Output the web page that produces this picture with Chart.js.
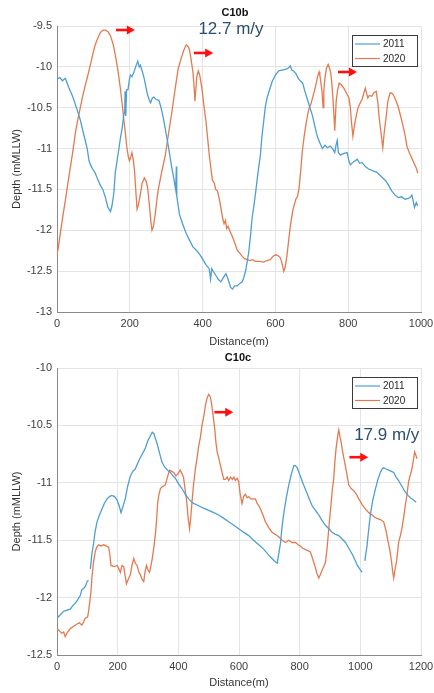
<!DOCTYPE html>
<html>
<head>
<meta charset="utf-8">
<script src="https://cdn.jsdelivr.net/npm/chart.js@4/dist/chart.umd.min.js"></script>
<style>
html,body{margin:0;padding:0;background:#fff;}
#wrap{position:relative;width:434px;height:693px;overflow:hidden;}
canvas{position:absolute;left:0;}
#c1{top:0;}
#c2{top:350px;}
</style>
</head>
<body>
<div id="wrap">
<canvas id="c1" width="434" height="350"></canvas>
<canvas id="c2" width="434" height="343"></canvas>
</div>
<script>
// ---------- DATA ----------
const seriesNames = ['2011', '2020'];

// C10b
const b2011X = [0,8,15,23,28,32,40,46,55,64,72,83,88,92,98,105,112,119,126,133,140,147,151,156,160,165,170,175,179,183,186,187,189,191,195,199,202,206,211,216,222,226,229,234,240,248,253,257,262,266,272,280,286,293,300,307,314,321,326,328,329,333,336,345,355,364,373,386,393,400,409,418,422,425,436,443,450,457,464,470,477,482,488,495,502,509,513,518,522,527,532,536,541,545,552,559,563,568,572,577,584,591,600,609,618,627,634,641,645,650,656,664,675,681,688,695,702,708,715,722,729,736,743,750,757,763,767,770,773,779,788,797,802,806,815,825,831,838,847,856,867,879,888,897,904,911,920,929,938,947,956,965,970,975,979,982,987,991];
const b2011Y = [-10.15,-10.13,-10.17,-10.14,-10.2,-10.25,-10.33,-10.4,-10.52,-10.65,-10.8,-11.0,-11.15,-11.2,-11.25,-11.3,-11.38,-11.45,-11.5,-11.6,-11.72,-11.77,-11.7,-11.55,-11.3,-11.15,-11.0,-10.85,-10.75,-10.6,-10.55,-10.3,-10.6,-10.28,-10.28,-10.15,-10.1,-10.12,-10.07,-10.0,-9.93,-10.0,-9.98,-10.05,-10.15,-10.33,-10.4,-10.44,-10.38,-10.37,-10.4,-10.41,-10.5,-10.65,-10.82,-11.0,-11.2,-11.37,-11.5,-11.22,-11.58,-11.7,-11.8,-11.92,-12.04,-12.12,-12.2,-12.26,-12.3,-12.35,-12.42,-12.47,-12.6,-12.47,-12.55,-12.6,-12.63,-12.58,-12.53,-12.6,-12.7,-12.72,-12.68,-12.68,-12.65,-12.63,-12.58,-12.5,-12.4,-12.26,-12.05,-11.85,-11.7,-11.56,-11.3,-11.07,-10.85,-10.66,-10.5,-10.38,-10.28,-10.18,-10.1,-10.05,-10.04,-10.03,-10.02,-9.99,-10.04,-10.05,-10.08,-10.15,-10.2,-10.3,-10.4,-10.5,-10.6,-10.72,-10.85,-10.93,-11.0,-10.96,-10.99,-10.97,-11.0,-11.05,-10.95,-10.9,-11.05,-11.08,-11.06,-11.05,-11.15,-11.2,-11.16,-11.13,-11.18,-11.17,-11.22,-11.25,-11.27,-11.29,-11.33,-11.37,-11.4,-11.45,-11.52,-11.57,-11.6,-11.59,-11.62,-11.61,-11.6,-11.57,-11.65,-11.72,-11.66,-11.7];

const b2020X = [0,4,9,16,23,30,37,44,50,57,64,71,78,85,92,98,105,112,119,126,133,140,147,154,160,167,174,179,183,188,192,196,199,203,206,210,213,217,220,224,229,234,240,245,249,254,258,261,265,270,275,279,288,298,307,316,322,327,333,341,348,355,360,364,368,373,376,379,381,384,388,392,398,403,409,414,418,423,427,432,436,441,446,450,455,459,463,466,470,476,482,488,495,502,509,516,523,530,537,545,556,568,577,586,593,600,607,614,619,623,627,632,637,641,648,656,661,665,670,674,679,684,688,693,698,702,707,711,716,720,722,724,728,731,733,736,740,745,749,752,755,758,761,763,765,767,771,775,781,788,795,802,806,809,813,817,822,827,833,838,843,847,851,854,858,865,870,877,881,885,890,895,899,904,909,915,920,925,932,938,945,952,957,961,968,975,981,988,991];
const b2020Y = [-12.3,-12.2,-12.04,-11.83,-11.63,-11.42,-11.22,-11.02,-10.82,-10.65,-10.5,-10.35,-10.22,-10.1,-9.97,-9.85,-9.73,-9.65,-9.58,-9.55,-9.55,-9.57,-9.62,-9.72,-9.85,-10.03,-10.26,-10.45,-10.62,-10.82,-10.99,-11.1,-11.15,-11.1,-11.05,-11.15,-11.27,-11.55,-11.74,-11.68,-11.56,-11.42,-11.36,-11.4,-11.48,-11.7,-11.9,-12.0,-11.95,-11.8,-11.6,-11.48,-11.28,-11.07,-10.8,-10.54,-10.35,-10.2,-10.02,-9.9,-9.8,-9.73,-9.75,-9.79,-9.9,-10.05,-10.2,-10.42,-10.3,-10.12,-10.05,-10.1,-10.26,-10.45,-10.66,-10.88,-11.07,-11.25,-11.39,-11.42,-11.5,-11.52,-11.62,-11.72,-11.85,-11.92,-11.88,-11.98,-11.95,-12.02,-12.08,-12.15,-12.24,-12.28,-12.32,-12.35,-12.36,-12.37,-12.36,-12.38,-12.38,-12.39,-12.37,-12.36,-12.32,-12.3,-12.31,-12.34,-12.42,-12.5,-12.45,-12.3,-12.1,-11.95,-11.75,-11.62,-11.58,-11.48,-11.25,-11.03,-10.85,-10.7,-10.6,-10.5,-10.45,-10.38,-10.3,-10.22,-10.12,-10.06,-10.1,-10.16,-10.3,-10.5,-10.3,-10.14,-10.02,-9.97,-10.02,-10.07,-10.2,-10.38,-10.6,-10.78,-10.6,-10.42,-10.28,-10.2,-10.22,-10.26,-10.32,-10.38,-10.5,-10.68,-10.85,-10.72,-10.6,-10.5,-10.44,-10.4,-10.32,-10.26,-10.33,-10.38,-10.35,-10.36,-10.32,-10.3,-10.42,-10.62,-10.8,-10.99,-10.8,-10.62,-10.42,-10.32,-10.32,-10.35,-10.42,-10.5,-10.62,-10.75,-10.85,-10.97,-11.05,-11.12,-11.18,-11.25,-11.3];

// C10c
const c2011X = [0,11,22,33,44,52,60,68,77,82,88,94,99,104,106,110,115,121,126,132,140,148,156,165,173,181,190,198,205,211,216,225,233,242,250,258,266,275,283,291,300,308,314,319,325,330,338,346,354,361,368,374,382,390,401,412,423,434,450,467,483,500,517,533,550,566,583,599,615,632,648,665,682,698,709,720,726,731,737,742,748,756,764,772,781,786,792,802,810,818,830,841,852,863,874,885,896,907,918,929,940,951,962,973,982,990,998,1006,1010,1015,1018,1022,1027,1033,1041,1050,1058,1066,1072,1077,1085,1094,1102,1110,1118,1126,1137,1148,1157,1165,1175,1184];
const c2011Y = [-12.18,-12.15,-12.12,-12.11,-12.1,-12.07,-12.05,-12.02,-11.98,-11.93,-11.92,-11.9,-11.86,-11.85,null,-11.75,-11.62,-11.52,-11.42,-11.34,-11.28,-11.23,-11.18,-11.14,-11.12,-11.11,-11.12,-11.15,-11.2,-11.26,-11.22,-11.14,-11.03,-10.94,-10.9,-10.88,-10.83,-10.78,-10.74,-10.7,-10.63,-10.59,-10.56,-10.57,-10.62,-10.66,-10.74,-10.82,-10.86,-10.88,-10.9,-10.91,-10.94,-10.96,-11.01,-11.05,-11.1,-11.14,-11.18,-11.2,-11.22,-11.24,-11.26,-11.28,-11.31,-11.34,-11.37,-11.4,-11.43,-11.46,-11.5,-11.54,-11.58,-11.63,-11.66,-11.69,-11.7,-11.62,-11.52,-11.38,-11.26,-11.13,-11.02,-10.93,-10.85,-10.85,-10.87,-10.94,-11.0,-11.05,-11.13,-11.2,-11.24,-11.28,-11.33,-11.37,-11.4,-11.43,-11.45,-11.46,-11.49,-11.52,-11.57,-11.62,-11.67,-11.72,-11.75,-11.78,null,-11.68,-11.62,-11.55,-11.42,-11.28,-11.15,-11.05,-10.97,-10.91,-10.88,-10.87,-10.88,-10.89,-10.9,-10.91,-10.95,-10.98,-11.03,-11.08,-11.11,-11.13,-11.15,-11.17];

const c2020X = [0,8,16,22,27,35,44,55,66,74,82,88,93,101,104,108,112,115,120,126,131,137,145,154,162,170,174,178,188,198,204,209,214,220,224,229,235,242,247,253,258,264,270,275,280,286,290,295,300,305,310,314,320,325,329,332,336,341,349,357,364,371,378,385,392,399,406,412,417,422,428,432,437,441,445,450,456,462,467,473,478,484,489,495,500,505,509,514,520,524,528,533,539,545,550,555,561,566,572,578,583,588,594,599,604,610,615,621,627,632,638,646,654,660,666,671,679,687,698,709,720,731,742,753,764,775,786,795,802,810,818,826,835,840,846,852,857,863,868,874,880,885,890,896,900,904,908,912,916,920,925,929,933,937,941,946,954,962,970,979,987,995,1006,1017,1028,1039,1047,1055,1066,1077,1085,1092,1098,1103,1107,1110,1114,1119,1123,1126,1132,1137,1143,1148,1154,1159,1165,1170,1175,1179,1183,1187];
const c2020Y = [-12.27,-12.29,-12.31,-12.3,-12.34,-12.3,-12.27,-12.25,-12.23,-12.22,-12.24,-12.21,-12.18,-12.17,-12.12,-12.04,-11.95,-11.83,-11.7,-11.6,-11.56,-11.54,-11.55,-11.54,-11.55,-11.56,-11.62,-11.72,-11.73,-11.72,-11.75,-11.78,-11.72,-11.73,-11.8,-11.88,-11.84,-11.8,-11.72,-11.66,-11.7,-11.72,-11.78,-11.8,-11.84,-11.86,-11.78,-11.72,-11.76,-11.78,-11.72,-11.66,-11.55,-11.43,-11.3,-11.17,-11.1,-11.05,-11.03,-11.02,-10.95,-10.89,-10.9,-10.91,-10.94,-10.92,-10.89,-10.92,-10.95,-11.05,-11.17,-11.3,-11.4,-11.3,-11.17,-11.02,-10.88,-10.78,-10.68,-10.6,-10.5,-10.42,-10.33,-10.26,-10.23,-10.25,-10.3,-10.4,-10.53,-10.65,-10.73,-10.78,-10.85,-10.92,-10.97,-10.97,-10.95,-10.98,-10.95,-10.97,-10.95,-10.98,-10.96,-10.99,-11.1,-11.18,-11.12,-11.1,-11.13,-11.12,-11.14,-11.14,-11.14,-11.18,-11.2,-11.23,-11.28,-11.34,-11.39,-11.43,-11.45,-11.47,-11.5,-11.52,-11.5,-11.52,-11.52,-11.54,-11.55,-11.57,-11.58,-11.59,-11.6,-11.64,-11.69,-11.74,-11.79,-11.83,-11.8,-11.76,-11.73,-11.69,-11.58,-11.4,-11.28,-11.17,-11.05,-10.97,-10.82,-10.7,-10.6,-10.54,-10.6,-10.65,-10.72,-10.79,-10.9,-11.02,-11.05,-11.07,-11.1,-11.14,-11.19,-11.23,-11.26,-11.28,-11.3,-11.31,-11.32,-11.34,-11.42,-11.52,-11.6,-11.69,-11.78,-11.83,-11.76,-11.69,-11.6,-11.52,-11.46,-11.4,-11.3,-11.2,-11.1,-10.99,-10.93,-10.88,-10.8,-10.73,-10.76,-10.79];

// Axis ranges / ticks
const bXTicks = [0, 1000, 200];
const bYTicks = [-13, -9.5, 0.5];
const cXTicks = [0, 1200, 200];
const cYTicks = [-12.5, -10, 0.5];

// Annotations (data space): [xStart, xEnd, y]
const bArrows = [[162, 214, -9.549], [376, 429, -9.83], [772, 824, -10.063]];
const cArrows = [[519, 581, -10.385], [964, 1026, -10.777]];
const bRate = {text: '12.7 m/y', x: 478, y: -9.598};
const cRate = {text: '17.9 m/y', x: 1087, y: -10.624};

// ---------- STYLE ----------
const FONT = '"Liberation Sans", Arial, Helvetica, sans-serif';
const BLUE = '#4d9fd2';
const ORANGE = '#e47a50';
Chart.defaults.font.family = FONT;
Chart.defaults.animation = false;

function pts(X, Y) { return X.map((x, i) => ({x: x, y: Y[i]})); }
function fmt(v) { return String(Math.round(v * 10) / 10); }

const overlay = {
  id: 'overlay',
  afterDatasetsDraw(chart, args, o) {
    const ctx = chart.ctx, xs = chart.scales.x, ys = chart.scales.y, ca = chart.chartArea;
    ctx.save();
    // arrows
    ctx.fillStyle = '#ff1010'; ctx.strokeStyle = '#ff1010';
    o.arrows.forEach(a => {
      const x0 = xs.getPixelForValue(a[0]), x1 = xs.getPixelForValue(a[1]), y = ys.getPixelForValue(a[2]);
      ctx.lineWidth = 2.6;
      ctx.beginPath(); ctx.moveTo(x0, y); ctx.lineTo(x1 - 7, y); ctx.stroke();
      ctx.beginPath(); ctx.moveTo(x1 - 8, y - 4.5); ctx.lineTo(x1, y); ctx.lineTo(x1 - 8, y + 4.5); ctx.closePath(); ctx.fill();
    });
    // rate text
    ctx.fillStyle = '#29506f';
    ctx.font = '17px ' + FONT;
    ctx.textAlign = 'center'; ctx.textBaseline = 'alphabetic';
    ctx.fillText(o.rate.text, xs.getPixelForValue(o.rate.x), ys.getPixelForValue(o.rate.y));
    // legend box
    const bx = ca.right - 69, by = ca.top + 9, bw = 65, bh = 31;
    ctx.fillStyle = '#fff'; ctx.fillRect(bx, by, bw, bh);
    ctx.strokeStyle = '#3a3a3a'; ctx.lineWidth = 1;
    ctx.strokeRect(bx + 0.5, by + 0.5, bw, bh);
    ctx.font = '10px ' + FONT; ctx.textAlign = 'left'; ctx.textBaseline = 'middle';
    chart.data.datasets.forEach((ds, i) => {
      const ly = by + 9 + i * 14.5;
      ctx.strokeStyle = ds.borderColor; ctx.lineWidth = 1.2;
      ctx.beginPath(); ctx.moveTo(bx + 3, ly); ctx.lineTo(bx + 28, ly); ctx.stroke();
      ctx.fillStyle = '#262626';
      ctx.fillText(ds.label, bx + 31, ly + 0.5);
    });
    // title
    ctx.fillStyle = '#111';
    ctx.font = 'bold 11px ' + FONT; ctx.textAlign = 'center'; ctx.textBaseline = 'middle';
    ctx.fillText(o.title, o.titleX, o.titleY);
    ctx.restore();
  }
};

function makeChart(id, cfg) {
  const ds = [
    {label: seriesNames[0], data: pts(cfg.X1, cfg.Y1), borderColor: BLUE},
    {label: seriesNames[1], data: pts(cfg.X2, cfg.Y2), borderColor: ORANGE}
  ].map(d => Object.assign(d, {borderWidth: 1.3, pointRadius: 0, tension: 0, fill: false, spanGaps: false}));
  return new Chart(document.getElementById(id), {
    type: 'line',
    data: {datasets: ds},
    plugins: [overlay],
    options: {
      responsive: false,
      animation: false,
      layout: {padding: {top: cfg.padTop, right: 13, left: 0, bottom: 0}},
      plugins: {
        legend: {display: false}, tooltip: {enabled: false}, title: {display: false},
        overlay: {arrows: cfg.arrows, rate: cfg.rate, title: cfg.title, titleX: cfg.titleX, titleY: cfg.titleY}
      },
      scales: {
        x: {
          type: 'linear', min: cfg.xt[0], max: cfg.xt[1],
          ticks: {stepSize: cfg.xt[2], color: '#404040', font: {size: 11}, padding: 5, maxRotation: 0, callback: fmt},
          grid: {color: '#e4e4e4', drawTicks: false},
          border: {color: '#8a8a8a'},
          title: {display: true, text: 'Distance(m)', color: '#333', font: {size: 11}, padding: {top: 0, bottom: cfg.xTitlePad}},
          afterFit(s) { s.height = cfg.xHeight; s.paddingLeft = 0; s.paddingRight = 0; }
        },
        y: {
          type: 'linear', min: cfg.yt[0], max: cfg.yt[1],
          ticks: {stepSize: cfg.yt[2], color: '#404040', font: {size: 11}, padding: 5, callback: fmt},
          grid: {color: '#e4e4e4', drawTicks: false},
          border: {color: '#8a8a8a'},
          title: {display: true, text: 'Depth (mMLLW)', color: '#333', font: {size: 11}, padding: {top: 10.4, bottom: 0}},
          afterFit(s) { s.width = 57; s.paddingTop = 0; s.paddingBottom = 0; }
        }
      }
    }
  });
}

makeChart('c1', {X1: b2011X, Y1: b2011Y, X2: b2020X, Y2: b2020Y, xt: bXTicks, yt: bYTicks,
  padTop: 26, xHeight: 38, xTitlePad: 1.4, arrows: bArrows, rate: bRate, title: 'C10b', titleX: 235, titleY: 13});
makeChart('c2', {X1: c2011X, Y1: c2011Y, X2: c2020X, Y2: c2020Y, xt: cXTicks, yt: cYTicks,
  padTop: 18, xHeight: 38, xTitlePad: 3.4, arrows: cArrows, rate: cRate, title: 'C10c', titleX: 238, titleY: 8});
</script>
</body>
</html>
